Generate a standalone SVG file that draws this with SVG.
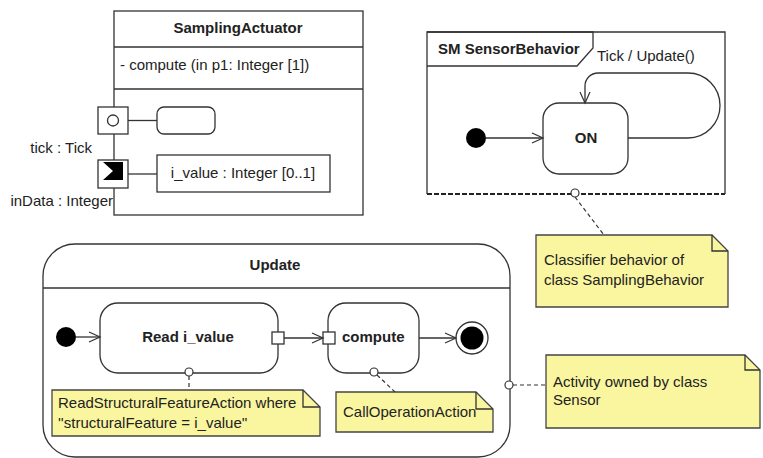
<svg xmlns="http://www.w3.org/2000/svg" width="763" height="458" viewBox="0 0 763 458">
<defs>
<marker id="open" markerUnits="userSpaceOnUse" markerWidth="14" markerHeight="12" refX="12" refY="6" orient="auto">
<path d="M1,1 L12,6 L1,11" fill="none" stroke="#333" stroke-width="1.2"/>
</marker>
</defs>
<style>
.ln{fill:none;stroke:#333;stroke-width:1.3}
.box{fill:#fff;stroke:#333;stroke-width:1.3}
.note{fill:#faf6a0;stroke:#444;stroke-width:1.3}
.dash{fill:none;stroke:#333;stroke-width:1.2;stroke-dasharray:4,3}
.anc{fill:#fff;stroke:#333;stroke-width:1.2}
text{font-family:"Liberation Sans",Arial,sans-serif;font-size:15px;fill:#222}
.b{font-weight:bold}
.c{text-anchor:middle}
</style>
<rect width="763" height="458" fill="#fff"/>

<g id="SamplingActuator">
<rect class="box" x="114" y="11" width="249" height="204"/>
<line class="ln" x1="114" y1="47" x2="363" y2="47"/>
<line class="ln" x1="114" y1="89" x2="363" y2="89"/>
<text class="b c" x="238" y="33">SamplingActuator</text>
<text x="120" y="70">- compute (in p1: Integer [1])</text>
</g>

<g id="port-tick">
<rect class="box" x="98" y="107" width="30" height="27"/>
<circle cx="113" cy="120.5" r="5.5" fill="#fff" stroke="#333" stroke-width="1.3"/>
<text x="92" y="153" text-anchor="end">tick : Tick</text>
</g>
<g id="port-inData">
<rect class="box" x="98" y="160" width="30" height="28"/>
<path d="M103,162 H123 V180 H103 L113,171 Z" fill="#000"/>
<text x="113" y="206" text-anchor="end">inData : Integer</text>
</g>
<g id="tick-part">
<rect class="box" x="157" y="107" width="58" height="27" rx="7"/>
</g>
<g id="i_value">
<rect class="box" x="157" y="155" width="173" height="37"/>
<text class="c" x="243" y="178">i_value : Integer [0..1]</text>
</g>

<g id="SensorBehavior">
<rect x="427" y="32" width="298" height="162" fill="#fff"/>
<path class="ln" d="M427,194 V32 H725 V194"/>
<line x1="427" y1="194" x2="725" y2="194" stroke="#222" stroke-width="2.2" stroke-dasharray="5,2"/>
<path class="ln" d="M427,32 H593 V48 L577,66 H427"/>
<text class="b" x="438" y="54">SM SensorBehavior</text>
</g>
<g id="sm-initial">
<circle cx="476" cy="138" r="10" fill="#000"/>
</g>
<g id="ON">
<rect class="box" x="543" y="103" width="85" height="71" rx="16"/>
<text class="b c" x="586" y="143">ON</text>
</g>

<g id="note-classifier">
<path class="note" d="M536,235 H712 L728,251 V307 H536 Z"/>
<path class="ln" d="M712,235 V251 H728"/>
<text x="544" y="265">Classifier behavior of</text>
<text x="544" y="285">class SamplingBehavior</text>
</g>

<g id="Update">
<rect class="box" x="43" y="244" width="467" height="213" rx="32"/>
<line class="ln" x1="43" y1="288" x2="510" y2="288"/>
<text class="b c" x="275" y="270">Update</text>
</g>
<g id="act-initial">
<circle cx="66" cy="337" r="10" fill="#000"/>
</g>
<g id="ReadValue">
<rect class="box" x="100" y="303" width="178" height="70" rx="18"/>
<text class="b c" x="188" y="342">Read i_value</text>
<rect class="box" x="272" y="332" width="12" height="12"/>
</g>
<g id="compute">
<rect class="box" x="328" y="303" width="91" height="70" rx="18"/>
<text class="b" x="342" y="342">compute</text>
<rect class="box" x="323" y="332" width="12" height="12"/>
</g>
<g id="act-final">
<circle cx="472" cy="338" r="16" fill="#fff" stroke="#333" stroke-width="1.3"/>
<circle cx="472" cy="338" r="11.5" fill="#000"/>
</g>

<g id="note-read">
<path class="note" d="M52,390 H303 L320,407 V436 H52 Z"/>
<path class="ln" d="M303,390 V407 H320"/>
<text x="58" y="408">ReadStructuralFeatureAction where</text>
<text x="58" y="428">''structuralFeature = i_value''</text>
</g>
<g id="note-call">
<path class="note" d="M336,392 H476 L493,409 V432 H336 Z"/>
<path class="ln" d="M476,392 V409 H493"/>
<text x="343" y="417">CallOperationAction</text>
</g>
<g id="note-activity">
<path class="note" d="M546,355 H745 L760,370 V428 H546 Z"/>
<path class="ln" d="M745,355 V370 H760"/>
<text x="553" y="387">Activity owned by class</text>
<text x="553" y="405">Sensor</text>
</g>

<g id="connectors">
<line class="ln" x1="486" y1="138" x2="543" y2="138" marker-end="url(#open)"/>
<path class="ln" d="M628,138 H688 A32,32.5 0 0 0 688,73 H598 A13,13 0 0 0 585,86 V103" marker-end="url(#open)"/>
<text x="597" y="61">Tick / Update()</text>
<line class="ln" x1="128" y1="120.5" x2="157" y2="120.5"/>
<line class="ln" x1="128" y1="174" x2="157" y2="174"/>
<line class="ln" x1="76" y1="337" x2="100" y2="337" marker-end="url(#open)"/>
<line class="ln" x1="284" y1="338" x2="323" y2="338" marker-end="url(#open)"/>
<line class="ln" x1="419" y1="338" x2="456" y2="338" marker-end="url(#open)"/>
<line class="dash" x1="575" y1="197" x2="604" y2="235"/>
<circle class="anc" cx="575" cy="193" r="4"/>
<line class="dash" x1="189" y1="376" x2="189" y2="390"/>
<circle class="anc" cx="189" cy="372" r="4"/>
<line class="dash" x1="377" y1="375" x2="395" y2="392"/>
<circle class="anc" cx="374" cy="372" r="4"/>
<line class="dash" x1="513" y1="385" x2="546" y2="385"/>
<circle class="anc" cx="509" cy="385" r="4"/>
</g>
</svg>
